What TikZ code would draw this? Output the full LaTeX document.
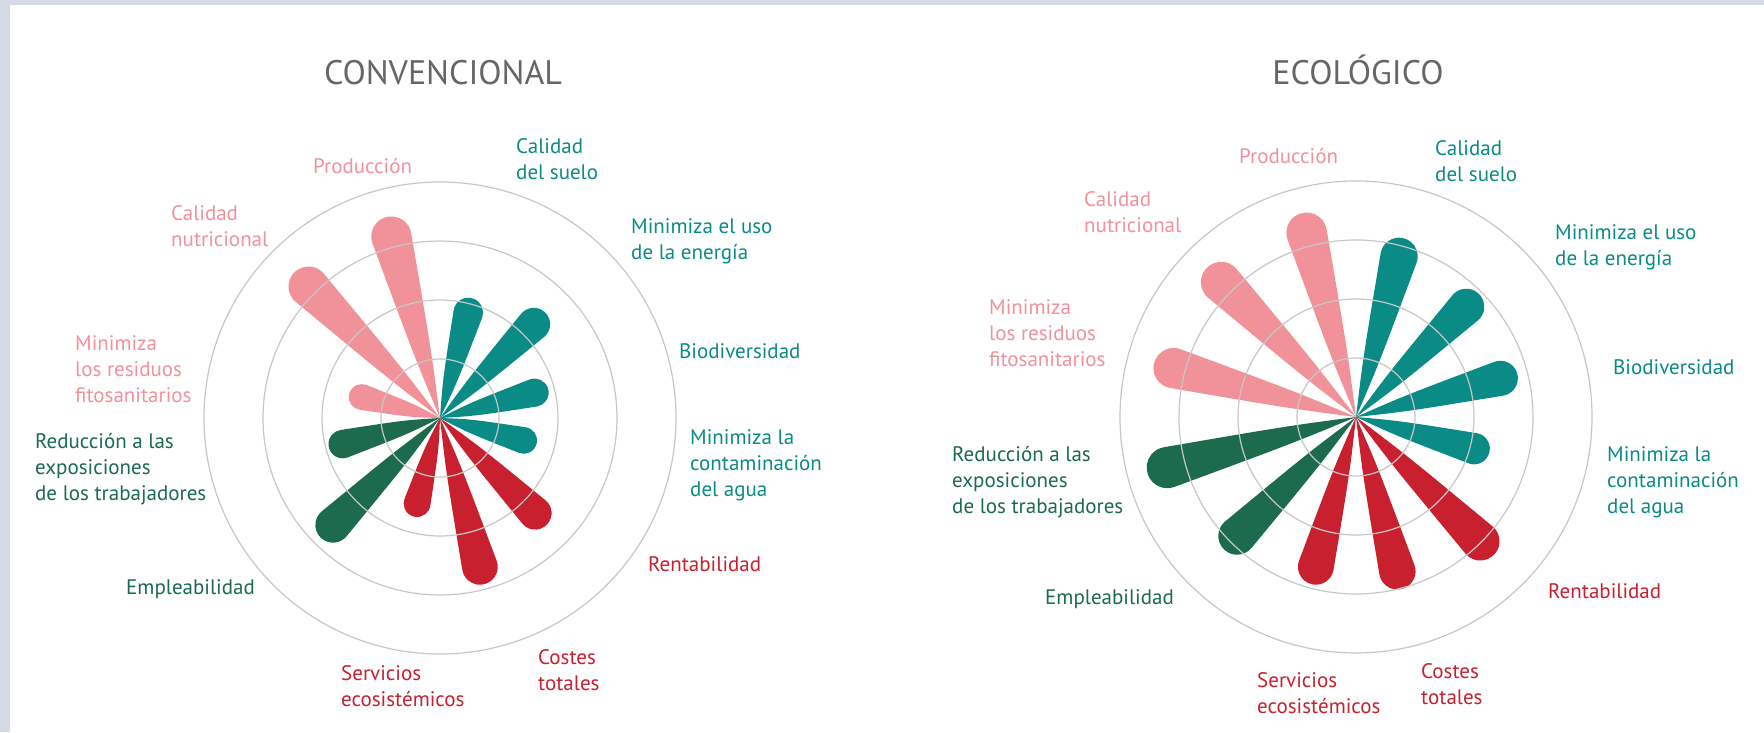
\documentclass[tikz,border=0pt]{standalone}
\usepackage{fontspec}
\setmainfont{PT Sans}
\usepackage{xcolor}
\definecolor{rosa}{HTML}{F1929B}
\definecolor{turquesa}{HTML}{0A8B85}
\definecolor{verde}{HTML}{1B6B4C}
\definecolor{rojo}{HTML}{C8202E}
\definecolor{marco}{HTML}{D4DBE4}
\definecolor{gristit}{HTML}{666666}
\newcommand{\petalo}[3]{%
  \pgfmathsetmacro{\rad}{7+0.063*#2}%
  \pgfmathsetmacro{\cen}{#2-\rad}%
  \pgfmathsetmacro{\alf}{asin(\rad/(\cen+30))}%
  \pgfmathsetmacro{\qx}{0.35*\cen}%
  \pgfmathsetmacro{\qy}{(\qx+30)*tan(\alf)}%
  \pgfmathsetmacro{\tx}{\cen-\rad*sin(\alf)}%
  \pgfmathsetmacro{\ty}{\rad*cos(\alf)}%
  \fill[#3,rotate=#1] (0,0) .. controls (\qx,\qy) .. (\tx,\ty)
    arc[start angle={90+\alf},end angle={-90-\alf},radius=\rad] .. controls (\qx,-\qy) .. (0,0) -- cycle;}

\begin{document}
\begin{tikzpicture}[x=1pt,y=1pt,
    etiqueta/.style={anchor=north west,inner sep=0pt,align=left,font=\fontsize{21}{26}\selectfont},
    titulo/.style={anchor=base,inner sep=0pt,text=gristit,font=\fontsize{34}{40}\selectfont},
    anillo/.style={black!22,line width=1.2pt}]
	\fill[marco] (0,0) rectangle (1764,732);
	\fill[white] (10,0) rectangle (1764,727);
	\useasboundingbox (0,0) rectangle (1764,732);

	\begin{scope}[shift={(440,314)}]
		\foreach \ang/\len/\col in {105/208/rosa,135/206/rosa,165/94/rosa,75/124/turquesa,45/149/turquesa,15/112/turquesa,-15/100/turquesa,-45/151/rojo,-75/172/rojo,-105/102/rojo,-135/169/verde,-165/115/verde}
			{\petalo{\ang}{\len}{\col}}
		\foreach \r in {59,118,177,236}
			\draw[anillo] (0,0) circle (\r);
	\end{scope}
	\node[titulo] (tconv) at (443,647) {CONVENCIONAL};
	\node[etiqueta,text=rosa] (cprod) at (313,574) {Producción};
	\node[etiqueta,text=turquesa] (csuelo) at (516,594) {Calidad\\del suelo};
	\node[etiqueta,text=turquesa] (cener) at (631,514) {Minimiza el uso\\de la energía};
	\node[etiqueta,text=turquesa] (cbio) at (679,389) {Biodiversidad};
	\node[etiqueta,text=turquesa] (cagua) at (690,303) {Minimiza la\\contaminación\\del agua};
	\node[etiqueta,text=rojo] (crent) at (648,176) {Rentabilidad};
	\node[etiqueta,text=rojo] (ccost) at (538,83) {Costes\\totales};
	\node[etiqueta,text=rojo] (cserv) at (341,67) {Servicios\\ecosistémicos};
	\node[etiqueta,text=verde] (cempl) at (126,153) {Empleabilidad};
	\node[etiqueta,text=verde] (cexpo) at (35,299) {Reducción a las\\exposiciones\\de los trabajadores};
	\node[etiqueta,text=rosa] (cresi) at (75,397) {Minimiza\\los residuos\\fitosanitarios};
	\node[etiqueta,text=rosa] (cnutr) at (171,527) {Calidad\\nutricional};

	\begin{scope}[shift={(1356,315)}]
		\foreach \ang/\len/\col in {105/211/rosa,135/211/rosa,165/209/rosa,75/185/turquesa,45/174/turquesa,15/167/turquesa,-15/138/turquesa,-45/195/rojo,-75/178/rojo,-105/173/rojo,-135/187/verde,-165/216/verde}
			{\petalo{\ang}{\len}{\col}}
		\foreach \r in {59,118,177,236}
			\draw[anillo] (0,0) circle (\r);
	\end{scope}
	\node[titulo] (teco) at (1358,647) {ECOLÓGICO};
	\node[etiqueta,text=rosa] (eprod) at (1239,584) {Producción};
	\node[etiqueta,text=turquesa] (esuelo) at (1435,592) {Calidad\\del suelo};
	\node[etiqueta,text=turquesa] (eener) at (1555,508) {Minimiza el uso\\de la energía};
	\node[etiqueta,text=turquesa] (ebio) at (1613,373) {Biodiversidad};
	\node[etiqueta,text=turquesa] (eagua) at (1607,286) {Minimiza la\\contaminación\\del agua};
	\node[etiqueta,text=rojo] (erent) at (1548,149) {Rentabilidad};
	\node[etiqueta,text=rojo] (ecost) at (1421,69) {Costes\\totales};
	\node[etiqueta,text=rojo] (eserv) at (1257,60) {Servicios\\ecosistémicos};
	\node[etiqueta,text=verde] (eempl) at (1045,143) {Empleabilidad};
	\node[etiqueta,text=verde] (eexpo) at (952,286) {Reducción a las\\exposiciones\\de los trabajadores};
	\node[etiqueta,text=rosa] (eresi) at (989,433) {Minimiza\\los residuos\\fitosanitarios};
	\node[etiqueta,text=rosa] (enutr) at (1084,541) {Calidad\\nutricional};
\end{tikzpicture}
\end{document}
